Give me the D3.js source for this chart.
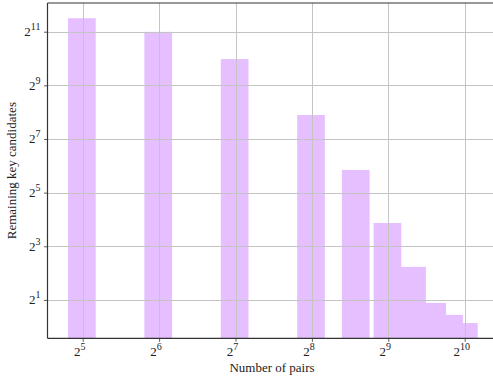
<!DOCTYPE html>
<html>
<head>
<meta charset="utf-8">
<script src="https://cdn.jsdelivr.net/npm/d3@7"></script>
<style>
  body { margin: 0; background: #fff; }
  svg { display: block; }
  text { font-family: "Liberation Serif", "DejaVu Serif", serif; fill: #222; }
</style>
</head>
<body>
<svg id="chart" width="493" height="379"></svg>
<script>
// 数据
const pairs = [32, 64, 128, 256, 384, 512, 640, 768, 896, 1024];
const candidates = [2900, 2040, 1010, 238, 57.5, 14.6, 4.7, 1.85, 1.36, 1.1];
const xTickExps = [5, 6, 7, 8, 9, 10];
const yTickExps = [1, 3, 5, 7, 9, 11];

const svg = d3.select('#chart');
const pLeft = 47.5, pRight = 498.3, pTop = 3, pBottom = 338.3;

const x = d3.scaleLog().base(2).domain([Math.pow(2, 4.539), Math.pow(2, 10.44)]).range([pLeft, pRight]);
const y = d3.scaleLog().base(2).domain([Math.pow(2, -0.43), Math.pow(2, 12.07)]).range([pBottom, pTop]);

const barColor = '#e5bfff', gridColor = '#c4c4c4', spineColor = '#333';

// 柱子 (宽度为 x/4, 在对数轴上不对称)
svg.append('g').selectAll('rect')
  .data(pairs.map((p, i) => ({p, v: candidates[i]})))
  .join('rect')
  .attr('x', d => x(d.p * 0.875))
  .attr('width', d => x(d.p * 1.125) - x(d.p * 0.875))
  .attr('y', d => y(d.v))
  .attr('height', d => pBottom - y(d.v))
  .attr('fill', barColor);

// 网格
const grid = svg.append('g').attr('stroke', gridColor).attr('stroke-width', 1);
grid.selectAll('.gx').data(xTickExps).join('line')
  .attr('x1', d => Math.round(x(Math.pow(2, d))) + 0.5).attr('x2', d => Math.round(x(Math.pow(2, d))) + 0.5)
  .attr('y1', pTop).attr('y2', pBottom);
grid.selectAll('.gy').data(yTickExps).join('line')
  .attr('y1', d => Math.round(y(Math.pow(2, d))) + 0.5).attr('y2', d => Math.round(y(Math.pow(2, d))) + 0.5)
  .attr('x1', pLeft).attr('x2', pRight);

// 坐标轴
const xAxis = d3.axisBottom(x).tickValues(xTickExps.map(e => Math.pow(2, e))).tickFormat('').tickSizeOuter(0).tickSize(3.5);
const yAxis = d3.axisLeft(y).tickValues(yTickExps.map(e => Math.pow(2, e))).tickFormat('').tickSizeOuter(0).tickSize(3.5);
const gx = svg.append('g').attr('transform', `translate(0,${pBottom})`).call(xAxis);
const gy = svg.append('g').attr('transform', `translate(${pLeft},0)`).call(yAxis);
[gx, gy].forEach(g => {
  g.select('.domain').remove();
  g.selectAll('.tick line').attr('stroke', spineColor).attr('stroke-width', 0.8);
});

// 刻度文字: 2 加上标
let powLabel = (sel, e) => {
  sel.append('tspan').text('2');
  sel.append('tspan').text(e).attr('font-size', 10).attr('dy', -6);
};
xTickExps.forEach(e => {
  let t = svg.append('text').attr('x', x(Math.pow(2, e)) - 3).attr('y', pBottom + 18)
    .attr('font-size', 13).attr('text-anchor', 'middle');
  powLabel(t, e);
});
yTickExps.forEach(e => {
  let t = svg.append('text').attr('x', pLeft - 7).attr('y', y(Math.pow(2, e)) + 4.5)
    .attr('font-size', 13).attr('text-anchor', 'end');
  powLabel(t, e);
});

// 边框
svg.append('line').attr('x1', pLeft).attr('x2', pLeft).attr('y1', pTop).attr('y2', pBottom)
  .attr('stroke', spineColor).attr('stroke-width', 1.2);
svg.append('line').attr('x1', pLeft).attr('x2', pRight).attr('y1', pBottom).attr('y2', pBottom)
  .attr('stroke', spineColor).attr('stroke-width', 1.2);
svg.append('line').attr('x1', pLeft).attr('x2', pRight).attr('y1', pTop).attr('y2', pTop)
  .attr('stroke', spineColor).attr('stroke-width', 1.2);

// 轴标题
svg.append('text').attr('x', 272).attr('y', 372).attr('text-anchor', 'middle')
  .attr('font-size', 13).text('Number of pairs');
svg.append('text').attr('transform', `translate(16,${(pTop + pBottom) / 2}) rotate(-90)`)
  .attr('text-anchor', 'middle').attr('font-size', 13).text('Remaining key candidates');
</script>
</body>
</html>
